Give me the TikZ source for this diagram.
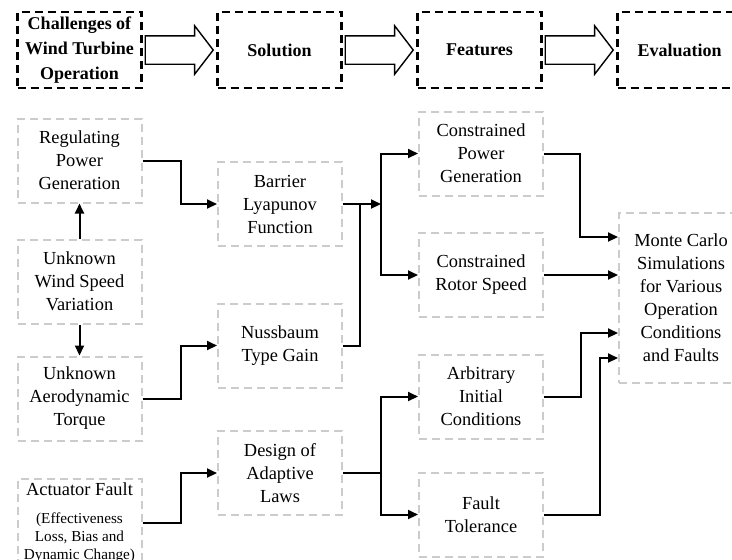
\documentclass[tikz,border=0pt]{standalone}
\usepackage{fontspec}
\setmainfont{Liberation Serif}
\usetikzlibrary{shapes,arrows.meta,positioning,calc}

\newcommand{\smalltxt}[1]{{\fontsize{7.6}{9}\selectfont #1}}

\begin{document}
\begin{tikzpicture}[
    x=0.5pt, y=-0.5pt,
    node distance=38pt,
    head/.style={rectangle, draw, line width=1.2pt, dash pattern=on 4pt off 2.5pt, minimum width=62pt, minimum height=38pt, outer sep=0pt, align=center, inner sep=1pt, font=\fontsize{9}{12.5}\selectfont\bfseries},
    block/.style={rectangle, draw=black!20, line width=1pt, dash pattern=on 4pt off 2.5pt, minimum width=62pt, minimum height=42pt, align=center, inner sep=1pt, font=\fontsize{9.2}{11.5}\selectfont},
    bigarrow/.style={single arrow, draw, line width=0.7pt, minimum height=34pt, minimum width=23.5pt, inner sep=6.75pt, single arrow head extend=5pt, single arrow tip angle=105, anchor=tail},
    arrow/.style={line width=1pt, -{Triangle[length=5pt,width=4.5pt]}},
    line/.style={line width=1pt}
]
\clip (0,0) rectangle (732,559);
\useasboundingbox (0,0) rectangle (732,559);

% Top row: stages
\node[head] (chal) at (79.5,50) {Challenges of\\Wind Turbine\\Operation};
\node[head, right=of chal] (sol) {Solution};
\node[head, right=of sol] (feat) {Features};
\node[head, right=of feat] (eval) {Evaluation};

\node[bigarrow] (ar1) at ($(chal.east)+(3,0)$) {};
\node[bigarrow] (ar2) at ($(sol.east)+(3,0)$) {};
\node[bigarrow] (ar3) at ($(feat.east)+(3,0)$) {};

% Challenges
\node[block] (reg) at (79.5,160.5) {Regulating\\Power\\Generation};
\node[block] (wind) at (79.5,281.5) {Unknown\\Wind Speed\\Variation};
\node[block] (aero) at (79.5,398.5) {Unknown\\Aerodynamic\\Torque};
\node[block, minimum height=44pt] (act) at (79.5,523) {Actuator Fault\\[2.5pt]\smalltxt{(Effectiveness}\\[-2.5pt]\smalltxt{Loss, Bias and}\\[-2.5pt]\smalltxt{Dynamic Change)}};

% Solution
\node[block] (blf) at (280,204) {Barrier\\Lyapunov\\Function};
\node[block] (nuss) at (280,345.5) {Nussbaum\\Type Gain};
\node[block] (adapt) at (280,473) {Design of\\Adaptive\\Laws};

% Features
\node[block] (cpow) at (481,153.5) {Constrained\\Power\\Generation};
\node[block] (crot) at (481,275) {Constrained\\Rotor Speed};
\node[block] (arb) at (481,396.5) {Arbitrary\\Initial\\Conditions};
\node[block] (ftol) at (481,514.5) {Fault\\Tolerance};

% Evaluation
\node[block, minimum height=85pt] (mc) at (681,298) {Monte Carlo\\Simulations\\for Various\\Operation\\Conditions\\and Faults};

% Connections
\draw[arrow] (wind) -- (reg);
\draw[arrow] (wind) -- (aero);
\draw[arrow] (reg.east) -- ++(38,0) |- (blf.west);
\draw[arrow] (aero.east) -- ++(38,0) |- (nuss.west);
\draw[arrow] (act.east) -- ++(38,0) |- (adapt.west);

\coordinate (jsol) at ($(blf.east)+(17,0)$);
\coordinate (jtop) at ($(blf.east)+(38,0)$);
\coordinate (jbot) at ($(adapt.east)+(38,0)$);

\draw[line] (nuss.east) -| (jsol);
\draw[arrow] (blf.east) -- (jtop);
\draw[arrow] (jtop) |- (cpow.west);
\draw[arrow] (jtop) |- (crot.west);
\draw[line] (adapt.east) -- (jbot);
\draw[arrow] (jbot) |- (arb.west);
\draw[arrow] (jbot) |- (ftol.west);

\draw[arrow] (cpow.east) -- ++(36,0) |- ([yshift=30.5pt]mc.west);
\draw[arrow] (crot.east) -- (crot.east -| mc.west);
\draw[arrow] (arb.east) -- ++(37,0) |- ([yshift=-17.5pt]mc.west);
\draw[arrow] (ftol.east) -- ++(56,0) |- ([yshift=-30pt]mc.west);

\end{tikzpicture}
\end{document}
